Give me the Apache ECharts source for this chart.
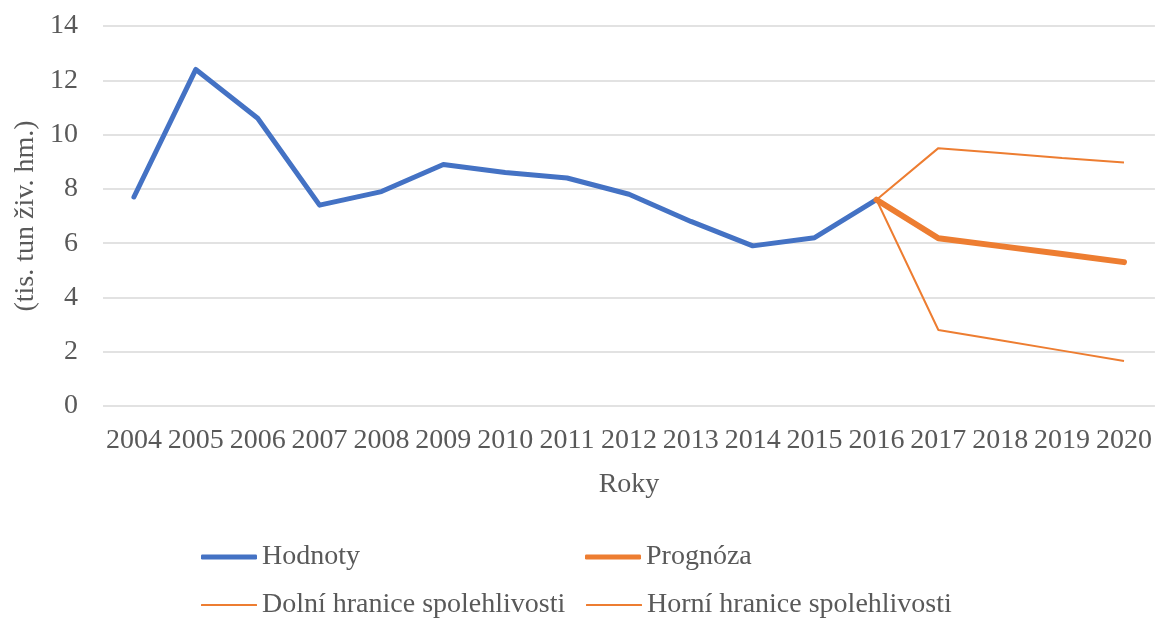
<!DOCTYPE html>
<html>
<head>
<meta charset="utf-8">
<script src="https://cdn.jsdelivr.net/npm/echarts@6/dist/echarts.min.js"></script>
<style>
    html, body { margin: 0; padding: 0; background: #fff; }
    #chart { width: 1155px; height: 619px; }
</style>
</head>
<body>
<div id="chart"></div>
<script>
// values
const years = ['2004', '2005', '2006', '2007', '2008', '2009', '2010', '2011', '2012',
    '2013', '2014', '2015', '2016', '2017', '2018', '2019', '2020'];
const hodnoty = [7.7, 12.4, 10.6, 7.4, 7.9, 8.9, 8.6, 8.4, 7.8, 6.8, 5.9, 6.2, 7.6,
    null, null, null, null];
const prognoza = [null, null, null, null, null, null, null, null, null, null, null, null,
    7.6, 6.18, 5.89, 5.6, 5.3];
const dolni = [null, null, null, null, null, null, null, null, null, null, null, null,
    7.6, 2.8, 2.42, 2.04, 1.66];
const horni = [null, null, null, null, null, null, null, null, null, null, null, null,
    7.6, 9.5, 9.32, 9.14, 8.97];

const font = 'Liberation Serif';
const textColor = '#595959';
const blue = '#4472C4';
const orange = '#ED7D31';

const chart = echarts.init(document.getElementById('chart'));

function legendAt(name, left, top, thick) {
    return {
        data: [name],
        left: left,
        top: top,
        icon: 'roundRect',
        itemWidth: 56,
        itemHeight: thick,
        itemGap: 0,
        padding: 0,
        textStyle: {fontFamily: font, fontSize: 28, color: textColor}
    };
}

const option = {
    animation: false,
    grid: {left: 103, right: 0, top: 26, bottom: 213},
    xAxis: {
        type: 'category',
        data: years,
        name: 'Roky',
        nameLocation: 'middle',
        nameGap: 65,
        nameTextStyle: {fontFamily: font, fontSize: 28, color: textColor},
        axisLine: {show: false},
        axisTick: {show: false},
        axisLabel: {fontFamily: font, fontSize: 28, color: textColor, margin: 21, interval: 0}
    },
    yAxis: {
        type: 'value',
        min: 0,
        max: 14,
        interval: 2,
        axisLabel: {fontFamily: font, fontSize: 28, color: textColor, margin: 25},
        splitLine: {lineStyle: {color: '#d9d9d9', width: 1.5}}
    },
    graphic: [{
        type: 'text',
        x: 26,
        y: 216,
        rotation: Math.PI / 2,
        style: {
            text: '(tis. tun živ. hm.)',
            fontFamily: font,
            fontSize: 28,
            fill: textColor,
            align: 'center',
            verticalAlign: 'middle'
        }
    }],
    legend: [
        legendAt('Hodnoty', 201, 543, 5),
        legendAt('Prognóza', 585, 543, 5),
        legendAt('Dolní hranice spolehlivosti', 201, 591, 2),
        legendAt('Horní hranice spolehlivosti', 586, 591, 2)
    ],
    series: [
        {
            name: 'Hodnoty', type: 'line', data: hodnoty, symbol: 'none',
            color: blue, lineStyle: {color: blue, width: 5, cap: 'round', join: 'round'}
        },
        {
            name: 'Prognóza', type: 'line', data: prognoza, symbol: 'none',
            color: orange, lineStyle: {color: orange, width: 6, cap: 'round', join: 'round'}
        },
        {
            name: 'Dolní hranice spolehlivosti', type: 'line', data: dolni, symbol: 'none',
            color: orange, lineStyle: {color: orange, width: 2}
        },
        {
            name: 'Horní hranice spolehlivosti', type: 'line', data: horni, symbol: 'none',
            color: orange, lineStyle: {color: orange, width: 2}
        }
    ]
};

chart.setOption(option);
</script>
</body>
</html>
